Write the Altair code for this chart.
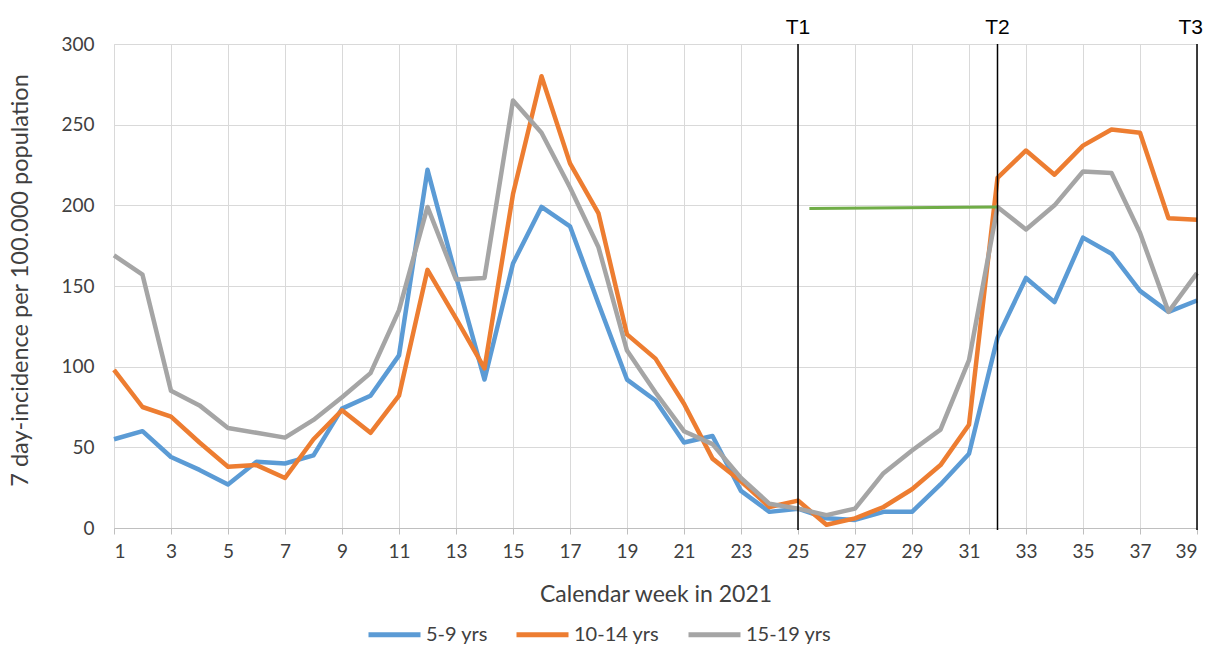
import altair as alt
import pandas as pd

weeks = list(range(1, 40))
age_5_9 = [55, 60, 44, 36, 27, 41, 40, 45, 74, 82, 107, 222, 156, 92, 164, 199, 187, 139, 92, 79,
           53, 57, 23, 10, 12, 6, 5, 10, 10, 27, 46, 118, 155, 140, 180, 170, 147, 134, 141]
age_10_14 = [98, 75, 69, 53, 38, 39, 31, 55, 73, 59, 82, 160, 130, 99, 207, 280, 226, 195, 120, 105,
             77, 43, 29, 13, 17, 2, 6, 13, 24, 39, 64, 217, 234, 219, 237, 247, 245, 192, 191]
age_15_19 = [169, 157, 85, 76, 62, 59, 56, 67, 81, 96, 135, 199, 154, 155, 265, 245, 211, 174, 110, 84,
             60, 52, 31, 15, 12, 8, 12, 34, 48, 61, 104, 199, 185, 200, 221, 220, 183, 134, 158]
series_names = ["5-9 yrs", "10-14 yrs", "15-19 yrs"]
series_colors = ["#5B9BD5", "#ED7D31", "#A5A5A5"]

green_weeks = [25.4, 32]
green_values = [198, 199]

t_weeks = [25, 32, 39]
t_labels = ["T1", "T2", "T3"]

y_ticks = [0, 50, 100, 150, 200, 250, 300]

rows = []
for name, vals in zip(series_names, [age_5_9, age_10_14, age_15_19]):
    for w, v in zip(weeks, vals):
        rows.append({"week": w, "value": v, "group": name})
df = pd.DataFrame(rows)
green_df = pd.DataFrame({"week": green_weeks, "value": green_values})
t_df = pd.DataFrame({"week": t_weeks, "label": t_labels})

FONT = "Lato"
W, H = 1083, 484

x_scale = alt.Scale(domain=[1, 39], nice=False, zero=False)
y_scale = alt.Scale(domain=[0, 300], nice=False)

x_axis = alt.Axis(
    values=weeks,
    labelExpr="datum.value % 2 == 1 ? datum.label : ''",
    grid=True, gridColor="#d9d9d9", gridWidth=1,
    domainColor="#bfbfbf", tickColor="#bfbfbf", tickSize=6,
    labelFontSize=19, labelColor="#404040", labelPadding=8, labelFont=FONT,
    title="Calendar week in 2021", titleFontSize=23, titleFontWeight="normal",
    titleColor="#404040", titleFont=FONT, titleY=55,
)
y_axis = alt.Axis(
    values=y_ticks, grid=True, gridColor="#d9d9d9", gridWidth=1,
    domain=False, ticks=False, labelFontSize=19, labelColor="#404040",
    labelPadding=20, labelFont=FONT,
    title="7 day-incidence per 100.000 population", titleFontSize=23.5,
    titleFontWeight="normal", titleColor="#404040", titleFont=FONT,
    titleX=-82, titleY=236,
)

lines = alt.Chart(df).mark_line(strokeWidth=4.5, strokeJoin="round").encode(
    x=alt.X("week:Q", scale=x_scale, axis=x_axis),
    y=alt.Y("value:Q", scale=y_scale, axis=y_axis),
    color=alt.Color(
        "group:N",
        scale=alt.Scale(domain=series_names, range=series_colors),
        sort=series_names,
        legend=alt.Legend(
            orient="none", legendX=252, legendY=562, direction="horizontal",
            title=None, symbolType="stroke", symbolSize=2704, symbolStrokeWidth=5,
            labelFontSize=20, labelColor="#404040", labelFont=FONT,
            columnPadding=18, labelOffset=3,
        ),
    ),
    detail="group:N",
)

green = alt.Chart(green_df).mark_line(strokeWidth=3, color="#70AD47").encode(
    x=alt.X("week:Q", scale=x_scale),
    y=alt.Y("value:Q", scale=y_scale),
)

rules = alt.Chart(t_df).mark_rule(color="black", strokeWidth=1.5).encode(
    x=alt.X("week:Q", scale=x_scale),
    y=alt.value(0),
    y2=alt.value(H + 2),
)

t_text = alt.Chart(t_df).transform_filter(alt.datum.label != "T3").mark_text(
    fontSize=21, font="Liberation Sans", color="black", baseline="middle"
).encode(
    x=alt.X("week:Q", scale=x_scale),
    y=alt.value(-16),
    text="label:N",
)

t3_text = alt.Chart(t_df).transform_filter(alt.datum.label == "T3").mark_text(
    fontSize=21, font="Liberation Sans", color="black", baseline="middle", align="right", dx=6
).encode(
    x=alt.X("week:Q", scale=x_scale),
    y=alt.value(-16),
    text="label:N",
)

chart = alt.layer(lines, green, rules, t_text, t3_text).properties(
    width=W, height=H,
    autosize=alt.AutoSizeParams(type="none"),
    padding={"left": 114, "top": 44, "right": 8, "bottom": 119},
).configure_view(stroke=None).configure(background="white")

chart.save("out.html", embed_options={"renderer": "svg", "actions": False})
